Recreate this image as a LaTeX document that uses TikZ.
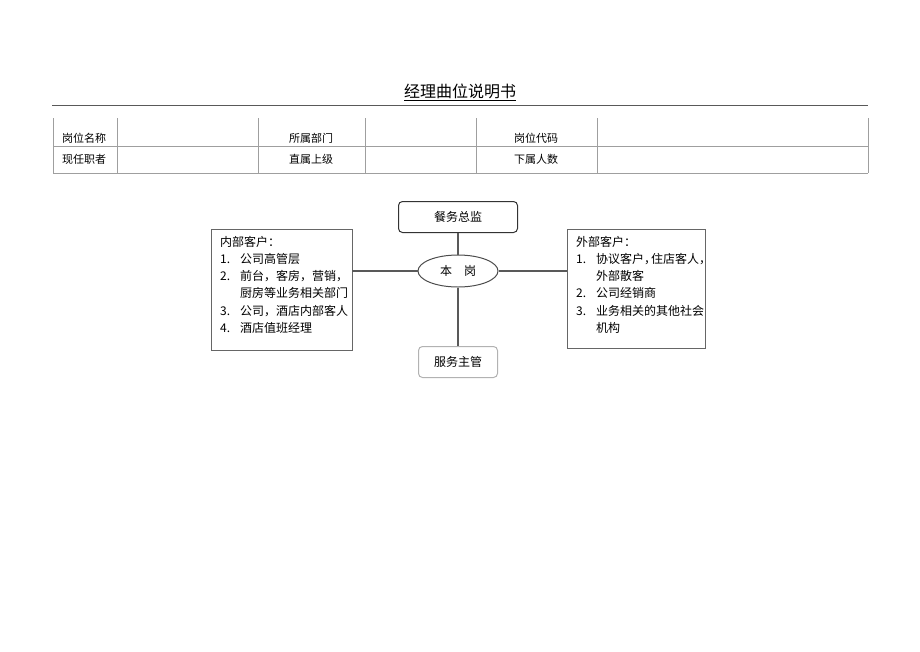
\documentclass[tikz,border=0pt]{standalone}
\usepackage{fontspec}
\setmainfont{Noto Sans CJK SC}
\usepackage{tikz}
\usetikzlibrary{shapes.geometric}

\begin{document}
\begin{tikzpicture}[x=1pt,y=-1pt]
\tikzstyle{every node}+=[inner sep=0pt]
\tikzstyle{cell}=[font=\fontsize{11}{13}\selectfont]
\tikzstyle{word}=[font=\fontsize{12}{17.2}\selectfont]
\tikzstyle{roundbox}=[draw, rounded corners=4pt, minimum width=119pt, minimum height=31pt, line width=1pt, word]
\tikzstyle{listbox}=[draw=gray!80!black, line width=0.9pt]
\tikzstyle{link}=[draw=black!65, line width=1.4pt]
\useasboundingbox (0,0) rectangle (920,651);

\node[font=\fontsize{16}{18}\selectfont] (title) at (460,92) {\underline{经理曲位说明书}};
\draw[line width=1pt, black!65] (52,105) -- (868,105);

\foreach \x in {53,117,258,365,476,597,868}
  \draw[gray!75, line width=0.9pt] (\x,118) -- (\x,173);
\foreach \y in {146,173}
  \draw[gray!75, line width=0.9pt] (53,\y) -- (868,\y);
\node[cell, anchor=west] (mingcheng) at (62,138) {岗位名称};
\node[cell] (bumen) at (311,138) {所属部门};
\node[cell] (daima) at (536,138) {岗位代码};
\node[cell, anchor=west] (zhizhe) at (62,159) {现任职者};
\node[cell] (shangji) at (311,159) {直属上级};
\node[cell] (renshu) at (536,159) {下属人数};

\node[roundbox, draw=black!80] (zongjian) at (458,217) {餐务总监};
\node[draw=black!70, line width=1pt, ellipse, minimum width=80pt, minimum height=32pt, word] (bengang) at (458,271) {本\hspace{1em}岗};
\node[roundbox, draw=gray!60, minimum width=79pt] (zhuguan) at (458,362) {服务主管};

\node[listbox, minimum width=141pt, minimum height=121pt] (neibu) at (281.5,289.5) {};
\node[word, anchor=north west, align=left] (neibutext) at (220,236) {内部客户：\\
\makebox[20pt][l]{1.}公司高管层\\
\makebox[20pt][l]{2.}前台，客房，营销，\\
\hspace*{20pt}厨房等业务相关部门\\
\makebox[20pt][l]{3.}公司，酒店内部客人\\
\makebox[20pt][l]{4.}酒店值班经理};

\node[listbox, minimum width=138pt, minimum height=119pt] (waibu) at (636,288.5) {};
\node[word, anchor=north west, align=left] (waibutext) at (576,236) {外部客户：\\
\makebox[20pt][l]{1.}协议客户\makebox[7pt][l]{，}住店客人\makebox[7pt][l]{，}\\
\hspace*{20pt}外部散客\\
\makebox[20pt][l]{2.}公司经销商\\
\makebox[20pt][l]{3.}业务相关的其他社会\\
\hspace*{20pt}机构};

\draw[link] (zongjian) -- (bengang);
\draw[link] (bengang) -- (zhuguan);
\draw[link] (neibu.east |- bengang) -- (bengang.west);
\draw[link] (bengang.east) -- (waibu.west |- bengang);
\end{tikzpicture}
\end{document}
